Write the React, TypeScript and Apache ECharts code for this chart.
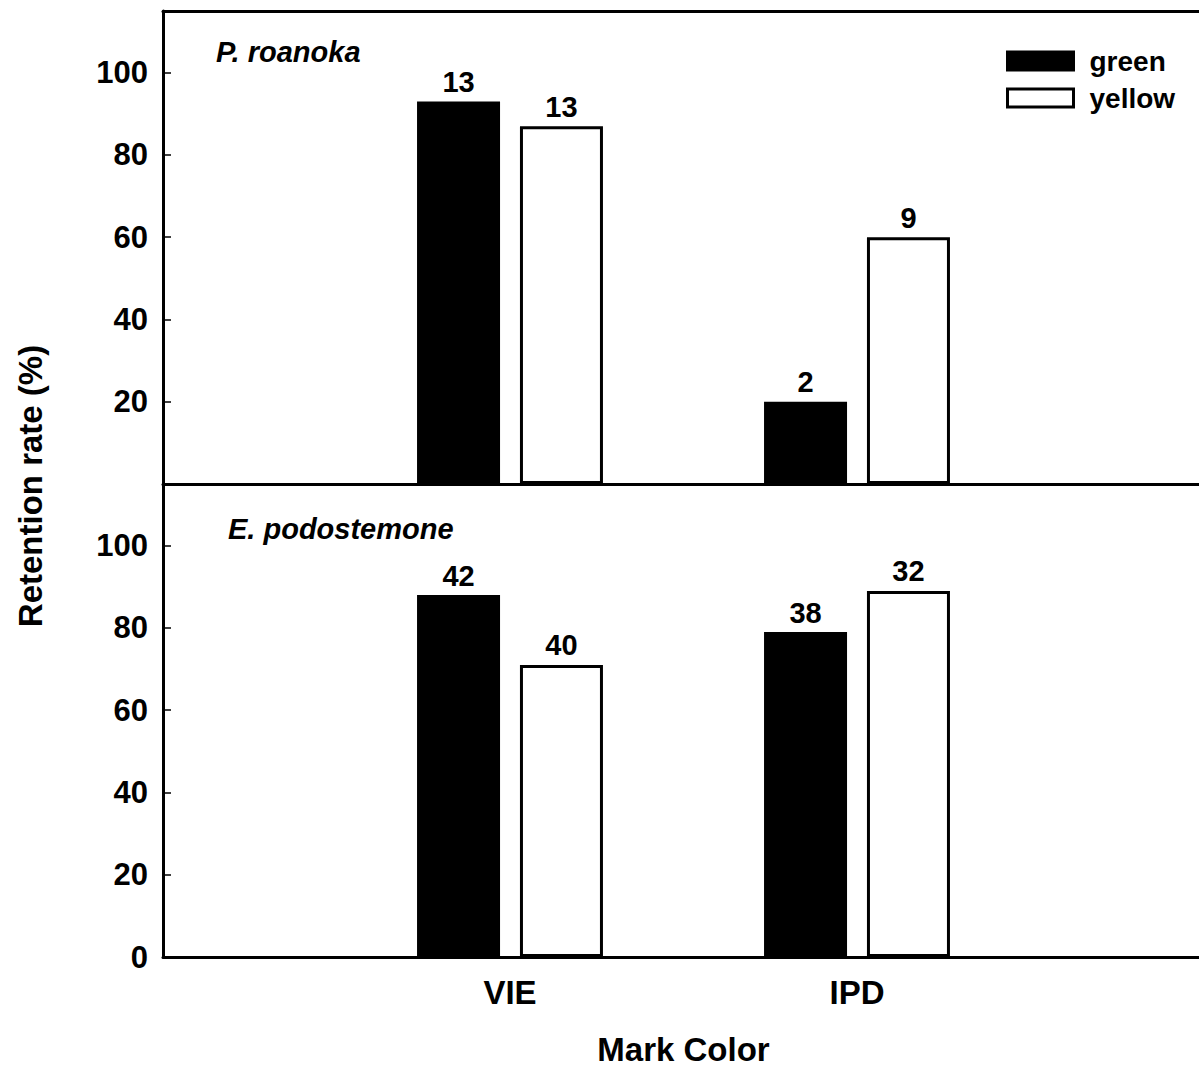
import React, { useEffect, useRef } from "react";
import * as echarts from "echarts";

const categories = ["VIE", "IPD"];
const seriesNames = ["green", "yellow"];
const topGreen = [93, 20];
const topYellow = [87, 60];
const topGreenN = [13, 2];
const topYellowN = [13, 9];
const botGreen = [88, 79];
const botYellow = [71, 89];
const botGreenN = [42, 38];
const botYellowN = [40, 32];
const panelTitles = ["P. roanoka", "E. podostemone"];
const yTicks = [0, 20, 40, 60, 80, 100];

const FONT = "'Liberation Sans', Arial, sans-serif";

export default function App() {
  const ref = useRef<HTMLDivElement>(null);
  useEffect(() => {
    if (!ref.current) return;
    const chart = echarts.init(ref.current, undefined, { renderer: "svg" });
    const axisData = [" ", ...categories, "  "];
    const pad = (vals: number[], ns: number[]) => [
      "-",
      ...vals.map((v, i) => ({ value: v, n: ns[i] })),
      "-",
    ];
    const lineStyle = { color: "#000", width: 3 };
    const xBase = {
      type: "category",
      data: axisData,
      boundaryGap: false,
      axisLine: { show: true, lineStyle },
      axisTick: { show: false },
      splitLine: { show: false },
    };
    const yBase = (showZero: boolean) => ({
      type: "value",
      min: 0,
      max: 115,
      interval: 20,
      axisLine: { show: true, lineStyle },
      axisTick: { show: true, inside: true, length: 8, lineStyle: { color: "#000", width: 1.5 } },
      splitLine: { show: false },
      axisLabel: {
        showMaxLabel: false,
        margin: 15,
        color: "#000",
        fontSize: 31,
        fontWeight: "bold",
        fontFamily: FONT,
        formatter: (v: number) =>
          yTicks.includes(v) && (showZero || v !== 0) ? String(v) : "",
      },
    });
    const label = {
      show: true,
      position: "top",
      distance: 5,
      color: "#000",
      fontSize: 29,
      fontWeight: "bold",
      fontFamily: FONT,
      formatter: (p: any) => String(p.data.n),
    };
    const barCommon = { type: "bar", barWidth: 83, barGap: "24%", label };
    const greenStyle = { color: "#000", borderColor: "#000", borderWidth: 3 };
    const yellowStyle = { color: "#fff", borderColor: "#000", borderWidth: 3 };

    chart.setOption({
      animation: false,
      backgroundColor: "#fff",
      textStyle: { fontFamily: FONT },
      title: [
        {
          text: panelTitles[0],
          left: 216,
          top: 37,
          padding: 0,
          textStyle: { fontSize: 29, fontWeight: "bold", fontStyle: "italic", color: "#000", fontFamily: FONT },
        },
        {
          text: panelTitles[1],
          left: 228,
          top: 514,
          padding: 0,
          textStyle: { fontSize: 29, fontWeight: "bold", fontStyle: "italic", color: "#000", fontFamily: FONT },
        },
      ],
      legend: {
        data: seriesNames,
        orient: "vertical",
        left: 1006,
        top: 47,
        padding: 0,
        itemWidth: 66,
        itemHeight: 18,
        itemGap: 9,
        icon: "rect",
        itemStyle: { borderWidth: 3, borderColor: "#000" },
        textStyle: { fontSize: 28, fontWeight: "bold", color: "#000", fontFamily: FONT, padding: [0, 0, 0, 11] },
      },
      grid: [
        { left: 163, top: 11, width: 1041, height: 473, outerBoundsMode: "none", containLabel: false },
        { left: 163, top: 484, width: 1041, height: 473, outerBoundsMode: "none", containLabel: false },
      ],
      xAxis: [
        { ...xBase, gridIndex: 0, axisLabel: { show: false } },
        {
          ...xBase,
          gridIndex: 1,
          axisLabel: { show: true, margin: 19, color: "#000", fontSize: 33, fontWeight: "bold", fontFamily: FONT },
          name: "Mark Color",
          nameLocation: "middle",
          nameGap: 76,
          nameTextStyle: { color: "#000", fontSize: 33, fontWeight: "bold", fontFamily: FONT },
        },
        { ...xBase, gridIndex: 0, position: "top", axisLabel: { show: false } },
      ],
      yAxis: [
        { ...yBase(false), gridIndex: 0 },
        { ...yBase(true), gridIndex: 1 },
      ],
      graphic: [
        {
          type: "text",
          x: 30,
          y: 486,
          rotation: Math.PI / 2,
          style: {
            text: "Retention rate (%)",
            fill: "#000",
            font: `bold 33px ${FONT}`,
            textAlign: "center",
            textVerticalAlign: "middle",
          },
        },
      ],
      series: [
        { ...barCommon, name: seriesNames[0], xAxisIndex: 0, yAxisIndex: 0, itemStyle: greenStyle, data: pad(topGreen, topGreenN) },
        { ...barCommon, name: seriesNames[1], xAxisIndex: 0, yAxisIndex: 0, itemStyle: yellowStyle, data: pad(topYellow, topYellowN) },
        { ...barCommon, name: seriesNames[0], xAxisIndex: 1, yAxisIndex: 1, itemStyle: greenStyle, data: pad(botGreen, botGreenN) },
        { ...barCommon, name: seriesNames[1], xAxisIndex: 1, yAxisIndex: 1, itemStyle: yellowStyle, data: pad(botYellow, botYellowN) },
      ],
    });
    return () => chart.dispose();
  }, []);
  return (
    <div
      ref={ref}
      style={{ position: "absolute", left: 0, top: 0, width: 1199, height: 1070 }}
    />
  );
}
